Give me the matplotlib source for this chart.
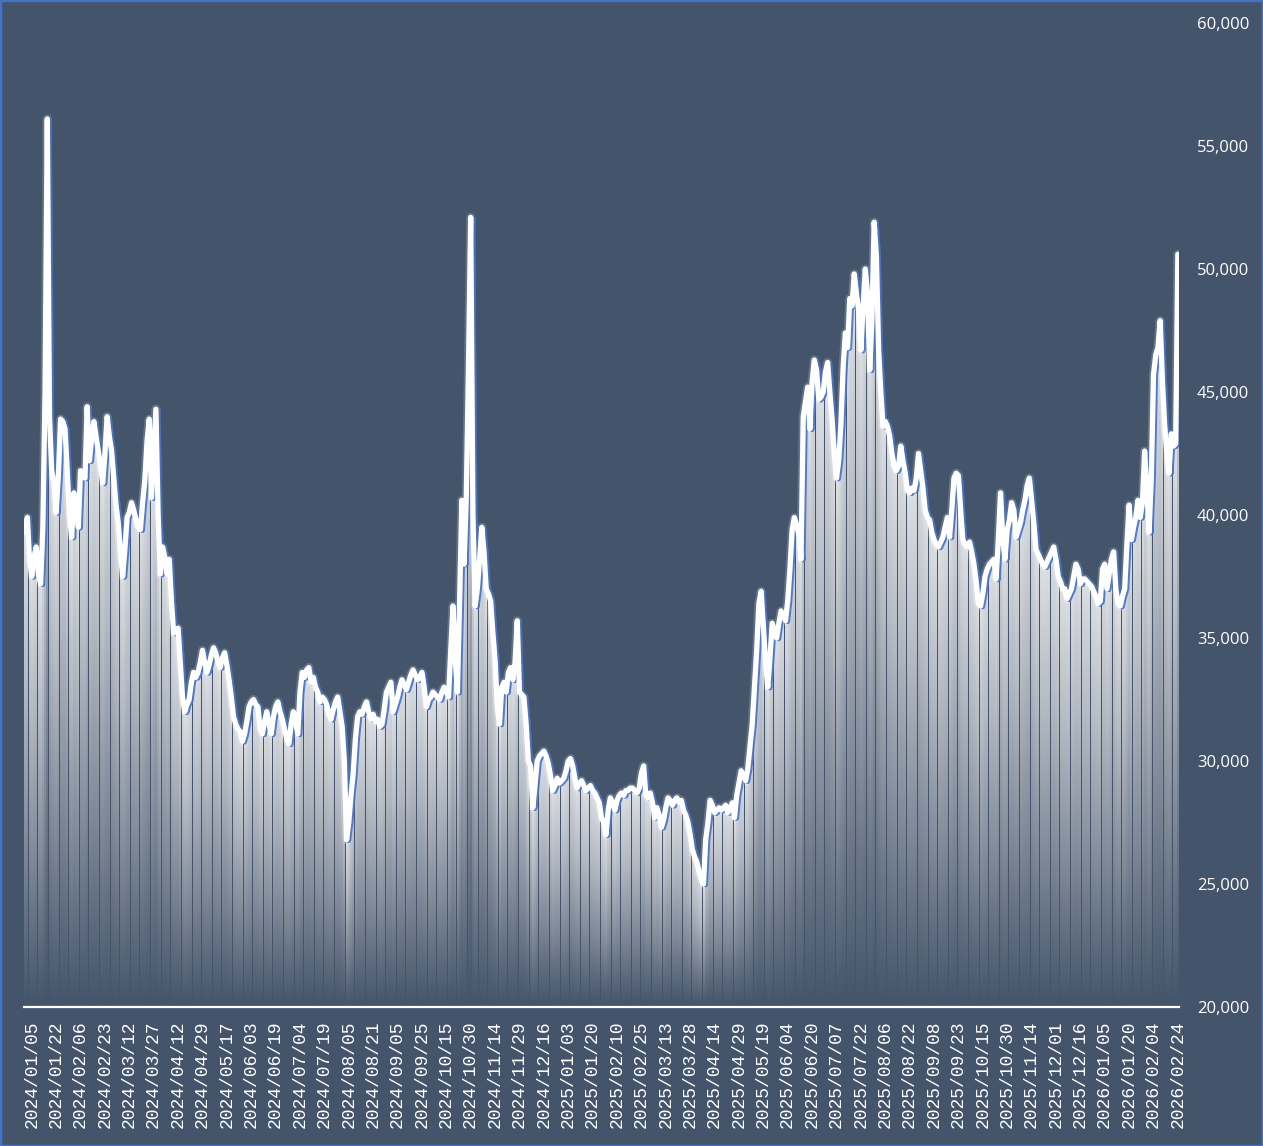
import numpy as np
import matplotlib
matplotlib.use('Agg')
import matplotlib.pyplot as plt
import matplotlib.patheffects as pe
from matplotlib.colors import LinearSegmentedColormap
from matplotlib.ticker import FuncFormatter

# ---------------------------------------------------------------- data
# daily values, in thousands
values_k = [
    39.3, 39.9, 38.2, 37.5, 38.3, 38.7, 37.6, 37.2, 39.5, 45.0, 56.1,
    44.0, 41.8, 41.3, 40.1, 41.6, 43.9, 43.8, 43.5, 41.8, 40.0, 39.1,
    40.9, 40.6, 39.5, 41.8, 41.7, 41.5, 44.4, 42.2, 43.1, 43.8, 43.2,
    42.6, 42.0, 41.3, 42.5, 44.0, 43.2, 42.6, 41.5, 40.4, 39.7, 38.5,
    37.5, 38.6, 39.9, 40.1, 40.5, 40.2, 39.8, 39.5, 39.4, 40.5, 41.4,
    43.0, 43.9, 40.7, 42.5, 44.3, 40.0, 37.6, 38.7, 38.3, 37.6, 38.2,
    36.5, 35.2, 35.3, 35.4, 34.0, 32.6, 32.0, 32.3, 32.5, 33.2, 33.6,
    33.4, 33.6, 34.0, 34.5, 34.0, 33.6, 33.9, 34.3, 34.6, 34.4, 34.0,
    33.8, 34.2, 34.4, 33.9, 33.3, 32.6, 31.8, 31.5, 31.3, 31.2, 30.8,
    31.1, 31.6, 32.2, 32.4, 32.5, 32.3, 32.2, 31.3, 31.1, 31.6, 32.0,
    31.5, 31.1, 31.8, 32.2, 32.4, 32.0, 31.7, 31.3, 30.9, 30.7, 31.5,
    32.0, 31.6, 31.1, 32.8, 33.6, 33.4, 33.7, 33.8, 33.2, 33.4, 33.0,
    32.8, 32.4, 32.6, 32.5, 32.3, 31.9, 31.7, 32.1, 32.4, 32.6, 32.0,
    31.4, 30.0, 26.8, 27.5, 28.6, 29.5, 30.9, 31.8, 32.0, 31.9, 32.2,
    32.4, 32.0, 31.7, 31.9, 31.6, 31.7, 31.4, 31.5, 32.1, 32.8, 33.0,
    33.2, 32.0, 32.3, 32.6, 33.0, 33.3, 33.1, 32.9, 33.2, 33.5, 33.7,
    33.5, 33.3, 33.4, 33.6, 33.0, 32.2, 32.5, 32.6, 32.8, 32.7, 32.6,
    32.5, 32.8, 33.0, 32.8, 32.6, 34.5, 36.3, 34.2, 32.8, 36.5, 40.6,
    38.0, 40.7, 46.0, 52.1, 40.0, 36.3, 37.0, 38.2, 39.5, 38.5, 37.0,
    36.8, 36.5, 35.2, 34.1, 32.2, 31.5, 33.0, 33.2, 32.8, 33.6, 33.8,
    33.3, 34.0, 35.7, 32.8, 32.7, 32.6, 31.5, 30.0, 29.8, 28.1, 29.0,
    30.0, 30.2, 30.3, 30.4, 30.2, 29.9, 29.4, 28.8, 29.0, 29.3, 29.1,
    29.2, 29.3, 29.6, 30.0, 30.1, 29.8, 29.3, 28.9, 29.1, 29.2, 29.0,
    28.8, 28.9, 29.0, 28.8, 28.7, 28.5, 28.3, 27.7, 27.5, 27.0, 28.0,
    28.5, 28.3, 28.0, 28.4, 28.6, 28.7, 28.6, 28.8, 28.8, 28.9, 28.9,
    28.8, 28.7, 28.9, 29.5, 29.8, 28.6, 28.5, 28.7, 28.3, 27.7, 28.1,
    27.8, 27.3, 27.6, 28.1, 28.5, 28.4, 28.2, 28.4, 28.5, 28.3, 28.4,
    28.0, 27.8, 27.5, 27.0, 26.4, 26.1, 25.9, 25.5, 25.2, 25.0, 26.8,
    27.5, 28.4, 28.2, 27.9, 28.0, 28.1, 28.0, 28.1, 28.2, 27.9, 28.1,
    28.3, 27.7, 28.6, 29.1, 29.6, 29.4, 29.2, 29.7, 30.6, 31.5, 33.0,
    34.5, 36.4, 36.9, 35.5, 34.0, 33.0, 34.2, 35.6, 35.3, 35.0, 35.6,
    36.1, 35.9, 35.7, 36.5, 37.8, 39.4, 39.9, 39.6, 39.2, 38.2, 44.0,
    44.6, 45.2, 43.5, 45.4, 46.3, 45.9, 44.7, 44.8, 45.0, 45.8, 46.2,
    45.0, 43.9, 42.5, 41.5, 42.2, 43.7, 46.0, 47.4, 46.8, 48.8, 48.5,
    49.8, 49.0, 48.3, 46.7, 48.5, 50.0, 49.0, 45.9, 48.0, 51.9, 50.5,
    46.7, 45.0, 43.6, 43.8, 43.6, 43.2, 42.5, 42.0, 41.8, 42.0, 42.8,
    42.2, 41.7, 41.0, 40.9, 41.1, 41.0, 41.5, 42.5, 41.8, 41.1, 40.2,
    39.9, 39.8, 39.3, 39.0, 38.8, 38.7, 38.9, 39.1, 39.5, 39.9, 39.1,
    40.2, 41.5, 41.7, 41.6, 40.2, 39.0, 38.8, 38.7, 38.9, 38.5, 38.0,
    37.3, 36.4, 36.3, 36.8, 37.5, 37.8, 38.0, 38.1, 38.2, 37.4, 39.0,
    40.9, 39.0, 38.2, 39.4, 39.8, 40.5, 40.2, 39.1, 39.4, 39.7, 40.2,
    40.6, 41.2, 41.5, 40.6, 39.7, 38.6, 38.4, 38.2, 38.0, 37.9, 38.1,
    38.3, 38.5, 38.7, 38.2, 37.5, 37.3, 37.0, 37.0, 36.6, 36.8, 37.0,
    37.5, 38.0, 37.8, 37.2, 37.4, 37.4, 37.3, 37.2, 37.1, 36.9, 36.7,
    36.4, 36.5, 37.8, 38.0, 37.0, 37.6, 38.2, 38.5, 37.0, 36.4, 36.3,
    36.7, 37.0, 38.8, 40.4, 39.0, 39.5, 39.9, 40.6, 39.9, 40.5, 42.6,
    41.0, 39.3, 41.5, 45.7, 46.5, 46.8, 47.9, 45.5, 43.7, 42.5, 41.7,
    43.3, 42.8, 42.9, 50.6,
]
values = np.array(values_k) * 1000

date_labels = [
    '2024/01/05', '2024/01/22', '2024/02/06', '2024/02/23', '2024/03/12',
    '2024/03/27', '2024/04/12', '2024/04/29', '2024/05/17', '2024/06/03',
    '2024/06/19', '2024/07/04', '2024/07/19', '2024/08/05', '2024/08/21',
    '2024/09/05', '2024/09/25', '2024/10/15', '2024/10/30', '2024/11/14',
    '2024/11/29', '2024/12/16', '2025/01/03', '2025/01/20', '2025/02/10',
    '2025/02/25', '2025/03/13', '2025/03/28', '2025/04/14', '2025/04/29',
    '2025/05/19', '2025/06/04', '2025/06/20', '2025/07/07', '2025/07/22',
    '2025/08/06', '2025/08/22', '2025/09/08', '2025/09/23', '2025/10/15',
    '2025/10/30', '2025/11/14', '2025/12/01', '2025/12/16', '2026/01/05',
    '2026/01/20', '2026/02/04', '2026/02/24',
]
first_label = 3      # index of the first labelled day
label_step = 11      # a label every 11 days

y_ticks = [20000, 25000, 30000, 35000, 40000, 45000, 50000, 55000, 60000]

# ---------------------------------------------------------------- style
BG = '#44546A'
BLUE = '#4472C4'
base = 20000

fig = plt.figure(figsize=(12.63, 11.46), dpi=100, facecolor=BG)
ax = fig.add_axes([24 / 1263, 139 / 1146, 1155 / 1263, 984 / 1146])
ax.set_facecolor(BG)

x = np.arange(len(values))

# bars with a vertical fade (background at the bottom -> light at the top)
bars = ax.bar(x, values - base, bottom=base, width=0.8,
              color='none', edgecolor='none')
grad = np.linspace(0, 1, 128).reshape(-1, 1)
fade = LinearSegmentedColormap.from_list(
    'fade', [BG, '#7f8998', '#b3b9c2', '#dcdfe3'])
for b in bars:
    ax.imshow(grad, origin='lower', aspect='auto', cmap=fade,
              interpolation='bilinear', zorder=1,
              extent=(b.get_x(), b.get_x() + b.get_width(),
                      b.get_y(), b.get_y() + b.get_height()))

# white line with a faint glow and a blue shadow to the right
ax.plot(x, values, color='white', lw=3.8, zorder=3,
        solid_joinstyle='round', solid_capstyle='round',
        path_effects=[pe.Stroke(linewidth=6.5, foreground='white', alpha=0.18),
                      pe.SimpleLineShadow(offset=(1.4, -0.5),
                                          shadow_color=BLUE, alpha=0.9),
                      pe.Normal()])

ax.set_xlim(-0.5, len(values) - 0.5)
ax.set_ylim(20000, 60000)

# axes decorations
for side in ['left', 'top', 'right']:
    ax.spines[side].set_visible(False)
ax.spines['bottom'].set_color('white')
ax.spines['bottom'].set_linewidth(1.6)
ax.spines['bottom'].set_zorder(4)

tick_pos = [first_label + label_step * k for k in range(len(date_labels))]
ax.set_xticks(tick_pos)
ax.set_xticklabels(date_labels, rotation=90, fontfamily='Liberation Mono',
                   fontsize=13, color='white')
ax.tick_params(axis='x', length=0, pad=10)

ax.yaxis.tick_right()
ax.set_yticks(y_ticks)
ax.yaxis.set_major_formatter(FuncFormatter(lambda v, p: f'{int(v):,}'))
ax.tick_params(axis='y', length=0, pad=13, labelsize=12, labelcolor='white')
for lab in ax.get_yticklabels():
    lab.set_fontfamily('Open Sans')

# thin blue frame round the whole picture
fig.add_artist(plt.Rectangle((0, 0), 1, 1, transform=fig.transFigure,
                             fill=False, edgecolor=BLUE, lw=2.5))

plt.savefig('out.png', dpi=100, facecolor=BG)
